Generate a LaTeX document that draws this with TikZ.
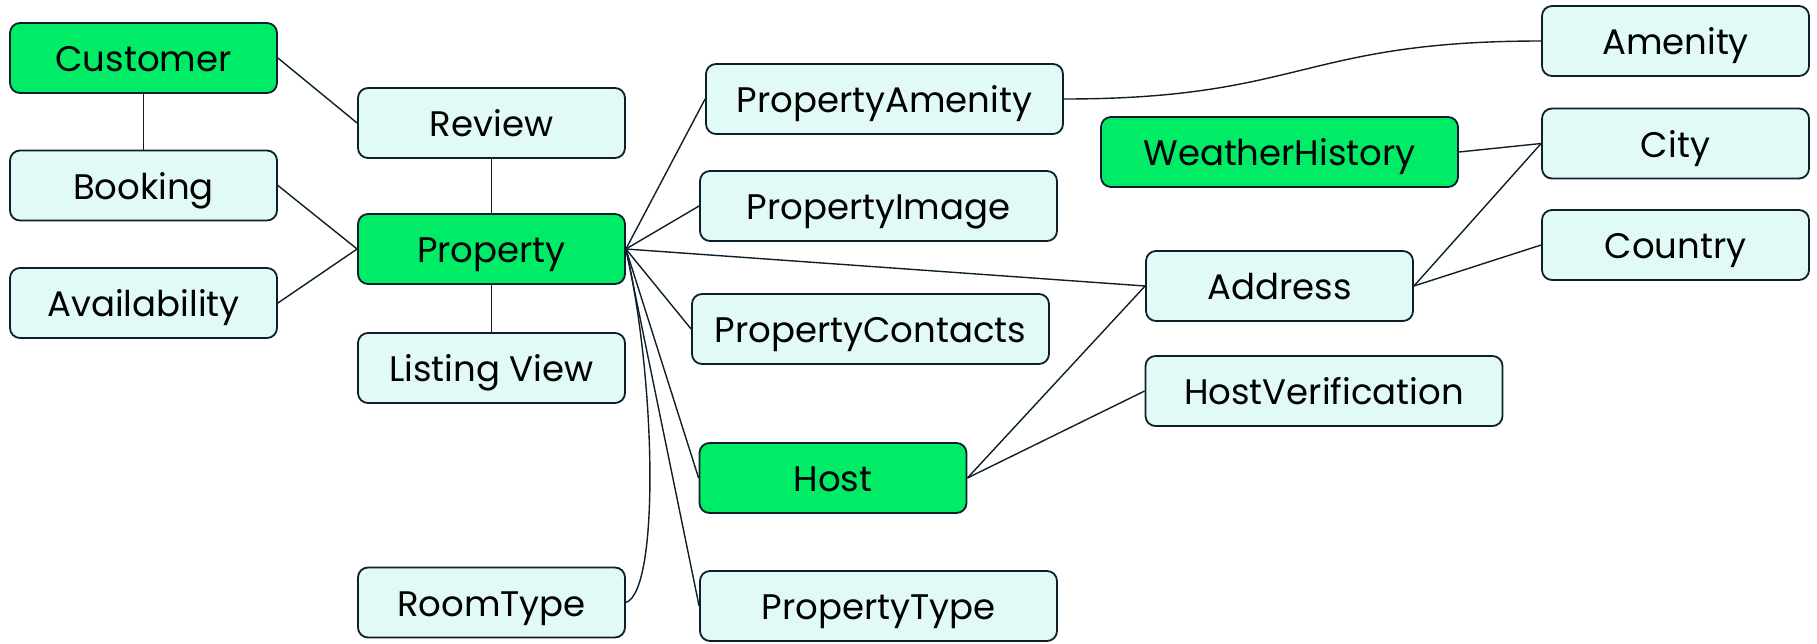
\documentclass[tikz,border=0pt]{standalone}
\usepackage{fontspec}
\setmainfont{Poppins}
\usepackage{tikz}
\definecolor{EntityGreen}{RGB}{0,235,102}
\definecolor{EntityMint}{RGB}{225,250,246}
\definecolor{EdgeNavy}{RGB}{12,31,42}

\begin{document}
\begin{tikzpicture}[x=1pt,y=-1pt,
		entity/.style={draw=EdgeNavy,line width=1.8pt,rounded corners=10pt,fill=EntityMint,
			minimum width=267pt,minimum height=70pt,inner sep=0pt,
			text height=27pt,text depth=0pt,font=\fontsize{35.5}{40}\selectfont},
		wide/.style={minimum width=357pt},
		core/.style={fill=EntityGreen},
		link/.style={EdgeNavy,line width=1.4pt}]
	\useasboundingbox (0,0) rectangle (1817,643);
	% left column
	\node[entity,core] (customer) at (143.5,58) {Customer};
	\node[entity] (booking) at (143.5,185.5) {Booking};
	\node[entity] (availability) at (143.5,303) {Availability};
	% property column
	\node[entity] (review) at (491.5,123) {Review};
	\node[entity,core] (property) at (491.5,249) {Property};
	\node[entity] (listing) at (491.5,368) {Listing View};
	\node[entity] (roomtype) at (491.5,602.5) {RoomType};
	% property details
	\node[entity,wide] (propamenity) at (884.5,99) {PropertyAmenity};
	\node[entity,wide] (propimage) at (878.5,206) {PropertyImage};
	\node[entity,wide] (propcontacts) at (870.5,329) {PropertyContacts};
	\node[entity,core] (host) at (833,478) {Host};
	\node[entity,wide] (proptype) at (878.5,606) {PropertyType};
	% location and host side
	\node[entity,wide,core] (weather) at (1279.5,152) {WeatherHistory};
	\node[entity] (address) at (1279.5,286) {Address};
	\node[entity,wide] (hostverif) at (1324,391) {HostVerification};
	\node[entity] (amenity) at (1675.5,41) {Amenity};
	\node[entity] (city) at (1675.5,143.5) {City};
	\node[entity] (country) at (1675.5,245) {Country};

	% relations
	\draw[link] (customer.east) -- (review.west);
	\draw[link] (customer.south) -- (booking.north);
	\draw[link] (review.south) -- (property.north);
	\draw[link] (booking.east) -- (property.west);
	\draw[link] (availability.east) -- (property.west);
	\draw[link] (property.south) -- (listing.north);
	\draw[link] (property.east) -- (propamenity.west);
	\draw[link] (property.east) -- (propimage.west);
	\draw[link] (property.east) -- (address.west);
	\draw[link] (property.east) -- (propcontacts.west);
	\draw[link] (property.east) -- (host.west);
	\draw[link] (property.east) -- (proptype.west);
	\draw[link] (property.east) .. controls +(30,131) and +(34,-12) .. (roomtype.east);
	\draw[link] (propamenity.east) .. controls +(239,0) and +(-240,0) .. (amenity.west);
	\draw[link] (weather.east) -- (city.west);
	\draw[link] (address.east) -- (city.west);
	\draw[link] (address.east) -- (country.west);
	\draw[link] (host.east) -- (address.west);
	\draw[link] (host.east) -- (hostverif.west);
\end{tikzpicture}
\end{document}
